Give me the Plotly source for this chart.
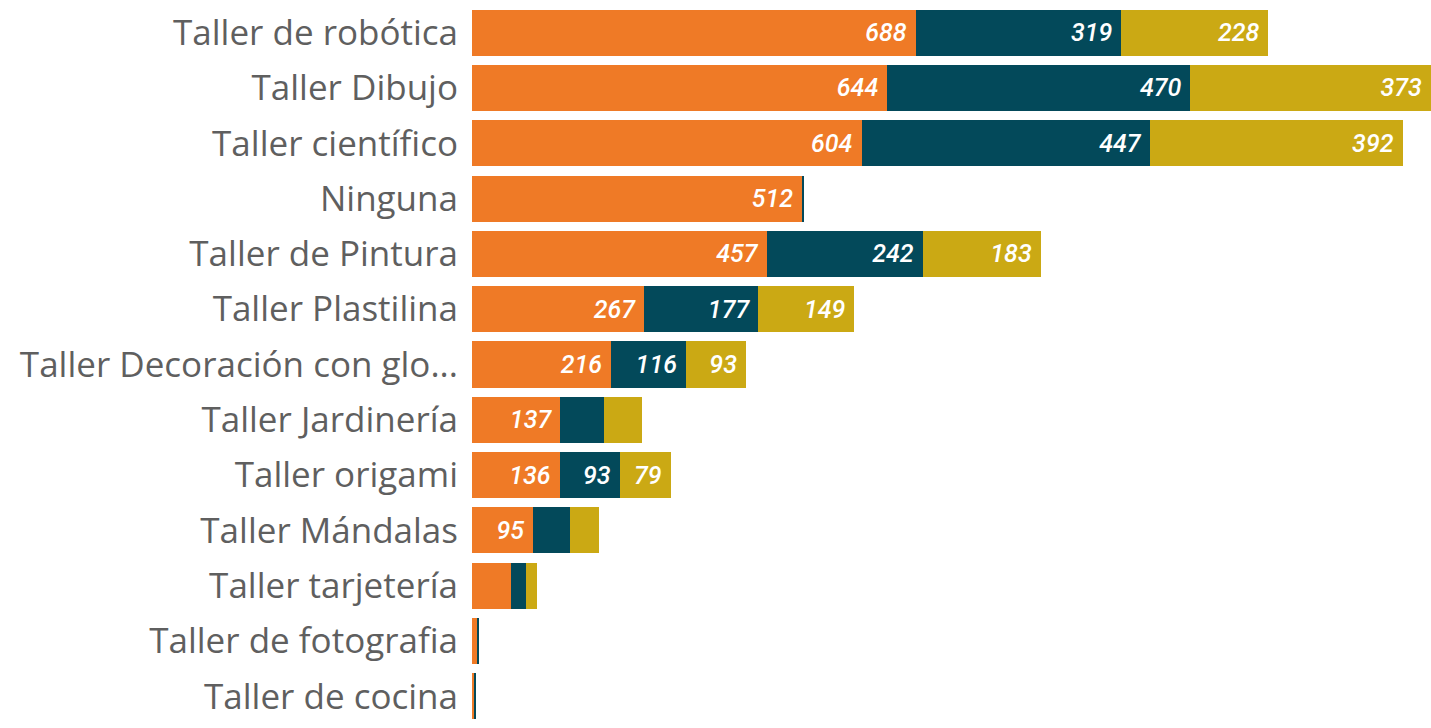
import plotly.graph_objects as go

# Data
categories = ["Taller de robótica", "Taller Dibujo", "Taller científico", "Ninguna",
              "Taller de Pintura", "Taller Plastilina", "Taller Decoración con glo...",
              "Taller Jardinería", "Taller origami", "Taller Mándalas",
              "Taller tarjetería", "Taller de fotografia", "Taller de cocina"]
serie_1 = [688, 644, 604, 512, 457, 267, 216, 137, 136, 95, 61, 9, 4]
serie_2 = [319, 470, 447, 3, 242, 177, 116, 67, 93, 57, 22, 1, 1]
serie_3 = [228, 373, 392, 0, 183, 149, 93, 60, 79, 45, 18, 0, 0]

colors = ["#EF7A26", "#03495A", "#CBA914"]
MIN_LABEL = 75  # smaller segments get no label (as in the source)


def labels(vals):
    return [(str(v) + "\u00a0") if v >= MIN_LABEL else "" for v in vals]


fig = go.Figure()
for vals, col in zip([serie_1, serie_2, serie_3], colors):
    fig.add_trace(go.Bar(
        y=categories, x=vals, orientation="h",
        marker_color=col, marker_line_width=0,
        text=labels(vals), textposition="inside", insidetextanchor="end",
        textangle=0, constraintext="none",
        textfont=dict(family="Roboto", size=25, color="white",
                      weight=500, style="italic"),
        hoverinfo="x+y", showlegend=False))

fig.update_layout(
    barmode="stack", bargap=0.167,
    width=1431, height=728,
    margin=dict(l=472, r=0, t=5, b=4),
    plot_bgcolor="white", paper_bgcolor="white",
    xaxis=dict(range=[0, 1487], visible=False, fixedrange=True),
    yaxis=dict(autorange="reversed", showgrid=False, showline=False,
               ticks="outside", ticklen=6, tickcolor="rgba(0,0,0,0)",
               tickfont=dict(family="Open Sans", size=35, color="#5f5f5f")),
)

# drop the browser's default body margin so the figure sits at the page corner
fig.write_html("out.html", config={"displayModeBar": False},
               post_script="document.body.style.margin='0';")
